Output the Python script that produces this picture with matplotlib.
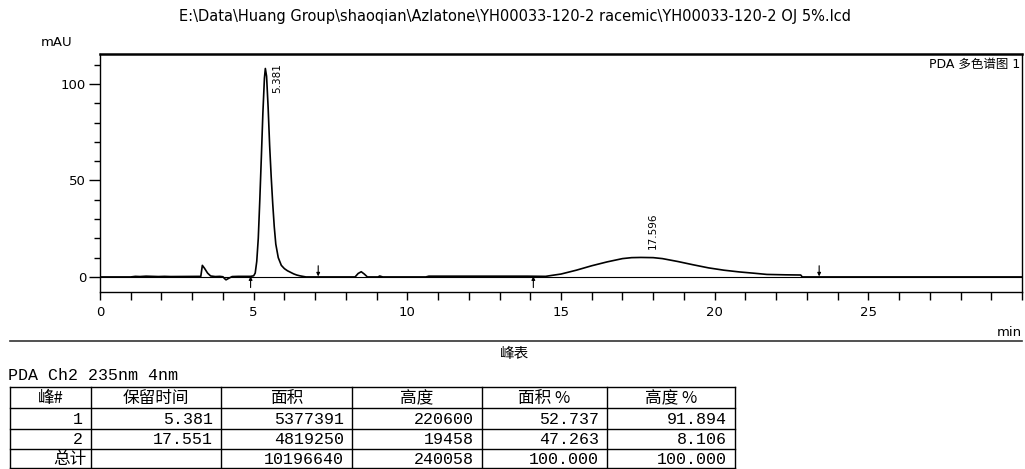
import matplotlib
matplotlib.use("Agg")
import matplotlib.pyplot as plt
from matplotlib.ticker import MultipleLocator, FixedLocator

# chromatogram trace (min, mAU)
time = [0, 1.0, 1.15, 1.3, 1.5, 1.7, 1.9, 2.1, 2.3, 3.28, 3.33, 3.4, 3.5,
        3.6, 3.75, 3.9, 4.0, 4.05, 4.1, 4.2, 4.3, 4.5, 4.9, 5.0, 5.05, 5.1,
        5.15, 5.2, 5.25, 5.3, 5.35, 5.38, 5.42, 5.47, 5.52, 5.57, 5.62, 5.67,
        5.72, 5.8, 5.9, 6.0, 6.1, 6.2, 6.3, 6.4, 6.5, 6.6, 6.7, 8.3, 8.4,
        8.5, 8.6, 8.7, 9.05, 9.1, 9.2, 10.6, 10.7, 13.9, 14.5, 14.7, 15.0,
        15.5, 16.0, 16.5, 17.0, 17.3, 17.6, 18.0, 18.3, 18.8, 19.3, 19.8,
        20.3, 20.8, 21.3, 21.7, 22.3, 22.8, 22.85, 30]
signal = [0, 0, 0.3, 0.2, 0.4, 0.3, 0.2, 0.3, 0.2, 0.3, 6.0, 4.5, 2.0,
          0.5, 0.2, 0.3, 0.1, -0.8, -1.5, -0.6, 0.2, 0.3, 0.3, 0.6, 2.0, 8.0,
          20, 40, 62, 85, 103, 108, 104, 88, 68, 52, 38, 26,
          17, 10, 6.0, 4.3, 3.2, 2.4, 1.6, 1.0, 0.6, 0.3, 0, 0, 1.8,
          2.7, 1.5, 0, 0, 0.5, 0, 0, 0.4, 0.4, 0.3, 0.8, 1.5,
          3.5, 5.8, 7.8, 9.5, 10.0, 10.1, 10.0, 9.5, 8.0, 6.3, 4.7,
          3.5, 2.6, 1.9, 1.3, 1.1, 1.0, 0, 0]

peak_rt = [5.381, 17.596]
peak_top = [108, 10.1]
marks_up = [4.9, 14.1]      # integration start
marks_down = [7.1, 23.4]    # integration end

title = r"E:\Data\Huang Group\shaoqian\Azlatone\YH00033-120-2 racemic\YH00033-120-2 OJ 5%.lcd"

# peak table
headers = ["峰#", "保留时间", "面积", "高度", "面积 %", "高度 %"]
peak_no = ["1", "2", "总计"]
ret_time = ["5.381", "17.551", ""]
area = ["5377391", "4819250", "10196640"]
height = ["220600", "19458", "240058"]
area_pct = ["52.737", "47.263", "100.000"]
height_pct = ["91.894", "8.106", "100.000"]

W, H = 1025, 469
fig = plt.figure(figsize=(W / 100, H / 100), dpi=100)
ax = fig.add_axes([100 / W, 1 - 292 / H, 922 / W, 238 / H])

ax.plot(time, signal, color="black", lw=1.2)
ax.axhline(0, color="black", lw=0.8)
ax.set_xlim(0, 30)
ax.set_ylim(-7.8, 115.5)

for t, top in zip(peak_rt, peak_top):
    ax.text(t + 0.4, top + 14 if t > 10 else top - 5, f"{t:.3f}", rotation=90,
            ha="center", va="center", fontsize=7.5)
for t in marks_up:
    ax.annotate("", xy=(t, 0.3), xytext=(t, -5.5),
                arrowprops=dict(arrowstyle="-|>", color="black", lw=0.8,
                                mutation_scale=5, shrinkA=0, shrinkB=0))
for t in marks_down:
    ax.annotate("", xy=(t, 0.3), xytext=(t, 5.8),
                arrowprops=dict(arrowstyle="-|>", color="black", lw=0.8,
                                mutation_scale=5, shrinkA=0, shrinkB=0))

ax.xaxis.set_major_locator(FixedLocator(range(0, 31)))
ax.set_xticklabels([str(v) if v % 5 == 0 and v < 30 else "" for v in range(0, 31)])
ax.yaxis.set_major_locator(FixedLocator([0, 50, 100]))
ax.yaxis.set_minor_locator(MultipleLocator(10))
ax.tick_params(axis="x", length=6, width=1, labelsize=9.5, pad=4)
ax.tick_params(axis="y", which="major", length=8, width=1, labelsize=9.5, pad=2)
ax.tick_params(axis="y", which="minor", length=4, width=1)
for s in ["left", "right", "bottom"]:
    ax.spines[s].set_linewidth(1.0)
ax.spines["top"].set_linewidth(1.8)

ax.text(0.998, 0.955, "PDA 多色谱图 1", transform=ax.transAxes, ha="right",
        va="center", fontsize=9, family=["DejaVu Sans", "Noto Sans CJK SC"])

# overlay in pixel coordinates for the page texts and the table
ov = fig.add_axes([0, 0, 1, 1])
ov.set_xlim(0, W)
ov.set_ylim(H, 0)
ov.axis("off")
ov.text(515, 17, title, ha="center", va="center", fontsize=10.5)
ov.text(57, 43, "mAU", ha="center", va="center", fontsize=9.5)
ov.text(1022, 333, "min", ha="right", va="center", fontsize=9.5)
ov.plot([10, 1022], [341.5, 341.5], color="#333", lw=1.2)
ov.text(515, 354, "峰表", ha="center", va="center", fontsize=10.5,
        family="Noto Sans CJK SC")
ov.text(8, 376, "PDA Ch2 235nm 4nm", ha="left", va="center", fontsize=12,
        family=["Liberation Mono", "Noto Sans CJK SC"])

cols = [10, 91, 221, 352, 482, 607, 735]
rows = [387, 408, 429, 449, 468]
for x in cols:
    ov.plot([x, x], [rows[0], rows[-1]], color="black", lw=1.0)
for y in rows:
    ov.plot([cols[0], cols[-1]], [y, y], color="black", lw=1.0)

for j, h in enumerate(headers):
    ov.text((cols[j] + cols[j + 1]) / 2, (rows[0] + rows[1]) / 2 + 1, h,
            ha="center", va="center", fontsize=12,
            family=["Noto Sans CJK SC", "Liberation Mono"])
table_cols = [peak_no, ret_time, area, height, area_pct, height_pct]
for j, colvals in enumerate(table_cols):
    for i, v in enumerate(colvals):
        yc = (rows[i + 1] + rows[i + 2]) / 2 + 1
        if v == "总计":
            ov.text(cols[j + 1] - 4, yc, v, ha="right", va="center",
                    fontsize=12, family="Noto Sans CJK SC")
        else:
            ov.text(cols[j + 1] - 8, yc, v, ha="right", va="center",
                    fontsize=12, family=["Liberation Mono", "Noto Sans CJK SC"])

fig.savefig("out.png", dpi=100)
